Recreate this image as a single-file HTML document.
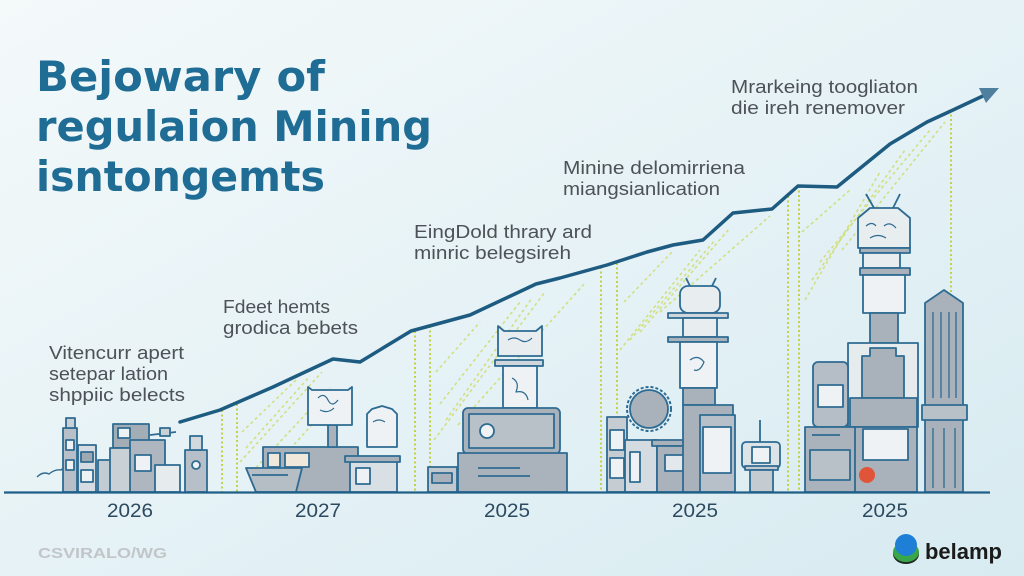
<!DOCTYPE html>
<html><head><meta charset="utf-8"><style>
html,body{margin:0;padding:0;width:1024px;height:576px;overflow:hidden;background:#e4f1f5}
svg{display:block}
</style></head><body>
<svg width="1024" height="576" viewBox="0 0 1024 576" xmlns="http://www.w3.org/2000/svg">
<defs>
<linearGradient id="bg" x1="0" y1="0" x2="1" y2="1">
<stop offset="0" stop-color="#f4f9fa"/>
<stop offset="0.5" stop-color="#e6f2f6"/>
<stop offset="1" stop-color="#d7ebf1"/>
</linearGradient>
</defs>
<rect width="1024" height="576" fill="url(#bg)"/>

<!-- Title -->
<g font-family="'DejaVu Sans', 'Liberation Sans', sans-serif" font-weight="bold" font-size="42" fill="#1f6c95">
<text x="36" y="91" textLength="289" lengthAdjust="spacingAndGlyphs">Bejowary of</text>
<text x="36" y="141" textLength="396" lengthAdjust="spacingAndGlyphs">regulaion Mining</text>
<text x="36" y="191" textLength="289" lengthAdjust="spacingAndGlyphs">isntongemts</text>
</g>

<!-- hatch bands -->
<g stroke="#cfdc6e" stroke-width="1.6" stroke-dasharray="3 3" fill="none" opacity="0.85">
<line x1="240" y1="462" x2="322" y2="372"/>
<line x1="252" y1="472" x2="330" y2="388"/>
<line x1="242" y1="432" x2="298" y2="378"/>
<line x1="262" y1="480" x2="318" y2="418"/>
<line x1="246" y1="448" x2="310" y2="376"/>
<line x1="434" y1="440" x2="545" y2="292"/>
<line x1="440" y1="404" x2="520" y2="302"/>
<line x1="458" y1="425" x2="585" y2="283"/>
<line x1="436" y1="372" x2="480" y2="322"/>
<line x1="446" y1="420" x2="532" y2="298"/>
<line x1="620" y1="350" x2="700" y2="250"/>
<line x1="640" y1="332" x2="730" y2="228"/>
<line x1="660" y1="312" x2="770" y2="216"/>
<line x1="624" y1="302" x2="672" y2="252"/>
<line x1="630" y1="340" x2="715" y2="240"/>
<line x1="805" y1="300" x2="880" y2="172"/>
<line x1="820" y1="262" x2="930" y2="130"/>
<line x1="842" y1="250" x2="945" y2="122"/>
<line x1="802" y1="232" x2="850" y2="190"/>
<line x1="812" y1="280" x2="905" y2="150"/>
</g>
<!-- dotted verticals -->
<g stroke="#c3d244" stroke-width="2" stroke-dasharray="2 2.5" fill="none">
<line x1="222" y1="410" x2="222" y2="492"/>
<line x1="237" y1="404" x2="237" y2="492"/>
<line x1="415" y1="331" x2="415" y2="492"/>
<line x1="430" y1="326" x2="430" y2="492"/>
<line x1="601" y1="267" x2="601" y2="492"/>
<line x1="617" y1="263" x2="617" y2="492"/>
<line x1="788" y1="196" x2="788" y2="492"/>
<line x1="799" y1="186" x2="799" y2="492"/>
<line x1="951" y1="110" x2="951" y2="292"/>
</g>

<!-- Trend line -->
<polyline fill="none" stroke="#1d5b81" stroke-width="3.5" stroke-linejoin="round" stroke-linecap="round"
points="180,422 220,410 273,387 303,373 333,359 360,362 411,331 470,315 536,284 560,278 607,265 647,252 673,245 703,240 733,213 772,209 798,186 837,187 890,144 927,122 953,110 985,95"/>
<polygon points="999,88 986,103 979,88" fill="#4f7f9f"/>

<!-- Buildings -->
<g stroke="#2e6b92" stroke-width="1.8" stroke-linejoin="round">
<!-- cluster 1 -->
<path d="M37,477 q6,-6 12,-3 q6,-5 12,-4 q4,-4 8,-2" fill="none" stroke-width="1.4"/>
<rect x="63" y="428" width="14" height="64" fill="#b7c0c8"/>
<rect x="66" y="418" width="9" height="10" fill="#c9d1d7"/>
<rect x="66" y="440" width="8" height="10" fill="#eef2f4"/>
<rect x="66" y="460" width="8" height="10" fill="#eef2f4"/>
<rect x="78" y="445" width="18" height="47" fill="#d6dde2"/>
<rect x="81" y="452" width="12" height="10" fill="#9fa9b3"/>
<rect x="81" y="470" width="12" height="12" fill="#eef2f4"/>
<rect x="98" y="460" width="28" height="32" fill="#c4ccd3"/>
<rect x="113" y="424" width="36" height="24" fill="#a3adb6"/>
<rect x="118" y="428" width="12" height="10" fill="#eef2f4"/>
<rect x="110" y="448" width="44" height="44" fill="#c9d0d6"/>
<rect x="130" y="440" width="35" height="52" fill="#aeb7c0"/>
<rect x="135" y="455" width="16" height="16" fill="#eef2f4"/>
<line x1="150" y1="435" x2="176" y2="432"/>
<rect x="160" y="428" width="10" height="8" fill="#c9d0d6"/>
<rect x="155" y="465" width="25" height="27" fill="#e6ebee"/>
<rect x="185" y="450" width="22" height="42" fill="#b7c0c8"/>
<rect x="190" y="436" width="12" height="14" fill="#d2d9de"/>
<circle cx="196" cy="465" r="4" fill="#eef2f4"/>
<!-- cluster 2 -->
<rect x="263" y="447" width="95" height="45" fill="#a9b2bb"/>
<rect x="268" y="453" width="12" height="14" fill="#f1e8dc"/>
<rect x="285" y="453" width="24" height="14" fill="#f1e8dc"/>
<path d="M246,468 L302,468 L296,492 L256,492 Z" fill="#b5bdc5"/>
<line x1="252" y1="475" x2="288" y2="475"/>
<rect x="328" y="425" width="9" height="22" fill="#a9b2bb"/>
<path d="M308,387 l4,3 l36,0 l4,-3 l0,38 l-44,0 Z" fill="#eef2f4"/>
<path d="M318,398 q6,-6 10,2 q4,8 10,0 M320,410 q8,4 14,-2" fill="none" stroke-width="1.2"/>
<rect x="350" y="460" width="47" height="32" fill="#d9e0e5"/>
<rect x="345" y="456" width="55" height="6" fill="#a9b2bb"/>
<rect x="356" y="468" width="14" height="16" fill="#eef2f4"/>
<path d="M367,414 l5,-5 l10,-3 l10,3 l5,5 l0,33 l-30,0 Z" fill="#eef2f4"/>
<path d="M373,422 q6,-4 12,0" fill="none" stroke-width="1.2"/>
<!-- cluster 3 -->
<rect x="428" y="467" width="29" height="25" fill="#c1c9cf"/>
<rect x="432" y="473" width="20" height="10" fill="#a9b2bb"/>
<path d="M498,326 l6,5 l32,0 l6,-5 l0,30 l-44,0 Z" fill="#e8edf0"/>
<path d="M508,340 q6,-4 12,0 q6,4 12,-2" fill="none" stroke-width="1.2"/>
<rect x="495" y="360" width="48" height="6" fill="#cfd6dc"/>
<rect x="503" y="366" width="34" height="42" fill="#eef2f4"/>
<path d="M512,378 q8,4 4,14 q10,-2 12,8" fill="none" stroke-width="1.2"/>
<rect x="463" y="408" width="97" height="46" rx="5" fill="#a9b2bb"/>
<rect x="469" y="414" width="85" height="34" fill="#b9c1c8"/>
<circle cx="487" cy="431" r="7" fill="#eef2f4"/>
<rect x="458" y="453" width="109" height="39" fill="#aab3bc"/>
<line x1="478" y1="468" x2="520" y2="468"/>
<line x1="478" y1="476" x2="530" y2="476"/>
<!-- cluster 4 -->
<rect x="607" y="417" width="20" height="75" fill="#c5cdd3"/>
<rect x="610" y="430" width="14" height="20" fill="#eef2f4"/>
<rect x="610" y="458" width="14" height="20" fill="#eef2f4"/>
<circle cx="649" cy="409" r="22" fill="none" stroke-dasharray="3 2" stroke-width="2"/>
<circle cx="649" cy="409" r="19" fill="#a9b2bb"/>
<rect x="625" y="440" width="32" height="52" fill="#d5dce1"/>
<rect x="630" y="452" width="10" height="30" fill="#eef2f4"/>
<rect x="652" y="440" width="50" height="6" fill="#a9b2bb"/>
<rect x="657" y="446" width="40" height="46" fill="#aab3bc"/>
<rect x="665" y="455" width="22" height="16" fill="#e2e8ec"/>
<line x1="690" y1="286" x2="686" y2="278"/>
<line x1="712" y1="286" x2="716" y2="278"/>
<rect x="680" y="286" width="40" height="27" rx="8" fill="#e8edf0"/>
<rect x="668" y="313" width="60" height="5" fill="#cfd6dc"/>
<rect x="683" y="318" width="34" height="19" fill="#e8edf0"/>
<rect x="668" y="337" width="60" height="5" fill="#a9b2bb"/>
<rect x="680" y="342" width="37" height="46" fill="#eef2f4"/>
<path d="M690,360 q8,-6 14,2 q-4,10 -10,8" fill="none" stroke-width="1.2"/>
<rect x="683" y="388" width="32" height="17" fill="#a9b2bb"/>
<rect x="683" y="405" width="50" height="87" fill="#a9b2bb"/>
<rect x="700" y="415" width="35" height="77" fill="#b7c0c8"/>
<rect x="703" y="427" width="28" height="46" fill="#eef2f4"/>
<line x1="760" y1="420" x2="760" y2="442"/>
<rect x="742" y="442" width="38" height="26" rx="4" fill="#dde4e8"/>
<rect x="752" y="447" width="18" height="16" fill="#eef2f4"/>
<rect x="745" y="466" width="33" height="4" fill="#c4ccd2"/>
<rect x="750" y="470" width="23" height="22" fill="#c4ccd2"/>
<!-- cluster 5 -->
<line x1="866" y1="194" x2="874" y2="208"/>
<line x1="900" y1="194" x2="893" y2="208"/>
<path d="M858,218 L870,208 L898,208 L910,218 L910,248 L858,248 Z" fill="#e8edf0"/>
<path d="M866,226 q6,-5 10,0 m8,0 q6,-5 12,2 M870,238 q8,-5 16,0" fill="none" stroke-width="1.2"/>
<rect x="860" y="248" width="50" height="5" fill="#a9b2bb"/>
<rect x="863" y="253" width="37" height="15" fill="#e8edf0"/>
<rect x="860" y="268" width="50" height="7" fill="#a9b2bb"/>
<rect x="863" y="275" width="42" height="38" fill="#eef2f4"/>
<rect x="870" y="313" width="28" height="30" fill="#a9b2bb"/>
<rect x="848" y="343" width="70" height="84" fill="#e6ebee"/>
<path d="M862,356 l8,0 l0,-8 l26,0 l0,8 l8,0 l0,42 l-42,0 Z" fill="#a9b2bb"/>
<rect x="850" y="398" width="67" height="29" fill="#a9b2bb"/>
<rect x="850" y="427" width="67" height="65" fill="#a9b2bb"/>
<rect x="863" y="429" width="45" height="31" fill="#eef2f4"/>
<rect x="813" y="362" width="35" height="65" rx="5" fill="#b5bec6"/>
<rect x="818" y="385" width="25" height="22" fill="#eef2f4"/>
<rect x="805" y="427" width="50" height="65" fill="#aab3bc"/>
<rect x="810" y="450" width="40" height="30" fill="#b9c1c8"/>
<line x1="812" y1="435" x2="840" y2="435"/>
<path d="M925,303 L944,290 L963,303 L963,492 L925,492 Z" fill="#a9b2bb"/>
<g fill="none" stroke-width="1.3"><line x1="933" y1="312" x2="933" y2="398"/><line x1="941" y1="312" x2="941" y2="398"/><line x1="949" y1="312" x2="949" y2="398"/><line x1="956" y1="312" x2="956" y2="398"/><line x1="933" y1="428" x2="933" y2="488"/><line x1="944" y1="428" x2="944" y2="488"/><line x1="955" y1="428" x2="955" y2="488"/></g>
<rect x="922" y="405" width="45" height="15" fill="#b9c1c8"/>
</g>
<circle cx="867" cy="475" r="8" fill="#e0553a"/>

<!-- axis -->
<line x1="4" y1="492.5" x2="990" y2="492.5" stroke="#1f5f88" stroke-width="2.2"/>
<g font-family="'Liberation Sans', sans-serif" font-size="19" fill="#2c4a60">
<text x="107" y="517" textLength="46" lengthAdjust="spacingAndGlyphs">2026</text>
<text x="295" y="517" textLength="46" lengthAdjust="spacingAndGlyphs">2027</text>
<text x="484" y="517" textLength="46" lengthAdjust="spacingAndGlyphs">2025</text>
<text x="672" y="517" textLength="46" lengthAdjust="spacingAndGlyphs">2025</text>
<text x="862" y="517" textLength="46" lengthAdjust="spacingAndGlyphs">2025</text>
</g>

<!-- annotations -->
<g font-family="'Liberation Sans', sans-serif" font-size="18" fill="#4c5257">
<text x="49" y="359" textLength="135" lengthAdjust="spacingAndGlyphs">Vitencurr apert</text>
<text x="49" y="380" textLength="119" lengthAdjust="spacingAndGlyphs">setepar lation</text>
<text x="49" y="401" textLength="136" lengthAdjust="spacingAndGlyphs">shppiic belects</text>
<text x="223" y="313" textLength="107" lengthAdjust="spacingAndGlyphs">Fdeet hemts</text>
<text x="223" y="334" textLength="135" lengthAdjust="spacingAndGlyphs">grodica bebets</text>
<text x="414" y="238" textLength="178" lengthAdjust="spacingAndGlyphs">EingDold thrary ard</text>
<text x="414" y="259" textLength="157" lengthAdjust="spacingAndGlyphs">minric belegsireh</text>
<text x="563" y="174" textLength="182" lengthAdjust="spacingAndGlyphs">Minine delomirriena</text>
<text x="563" y="195" textLength="157" lengthAdjust="spacingAndGlyphs">miangsianlication</text>
<text x="731" y="93" textLength="187" lengthAdjust="spacingAndGlyphs">Mrarkeing toogliaton</text>
<text x="731" y="114" textLength="174" lengthAdjust="spacingAndGlyphs">die ireh renemover</text>
</g>

<!-- footer -->
<text x="38" y="558" font-family="'Liberation Sans', sans-serif" font-weight="bold" font-size="15" fill="#c2c6c9" textLength="129" lengthAdjust="spacingAndGlyphs">CSVIRALO/WG</text>
<ellipse cx="906" cy="554" rx="13" ry="10" fill="#1f2a24"/>
<ellipse cx="906" cy="552" rx="13" ry="10" fill="#3aa64a"/>
<circle cx="906" cy="545" r="11" fill="#1e7fd6"/>
<text x="925" y="559" font-family="'Liberation Sans', sans-serif" font-weight="bold" font-size="22" fill="#1b1b1b" textLength="77" lengthAdjust="spacingAndGlyphs">belamp</text>
</svg>
</body></html>
